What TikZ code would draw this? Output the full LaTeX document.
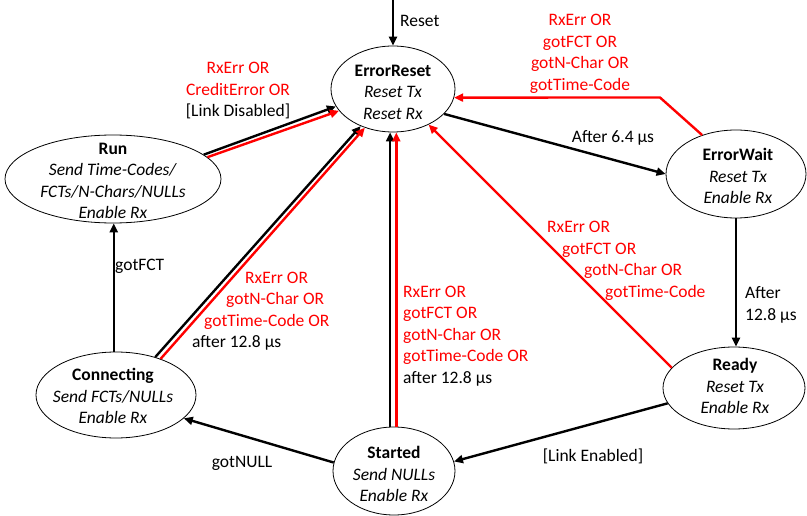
\documentclass[tikz,border=0pt]{standalone}
\usepackage{fontspec}
\setmainfont{Carlito}
\usetikzlibrary{shapes.geometric,arrows.meta}
\begin{document}
\begin{tikzpicture}[x=1pt,y=-1pt,
  every node/.style={font=\fontsize{17.5pt}{21.5pt}\selectfont},
  stbox/.style={draw, ellipse, line width=0.8pt, inner sep=0pt},
  txt/.style={inner sep=0pt, align=center},
  lbl/.style={inner sep=0pt, align=center},
  ar/.style={line width=2.4pt, -{Triangle[length=9pt,width=8pt]}},
  rar/.style={ar, red}]
\useasboundingbox (0,0) rectangle (807,516);

% states
\node[stbox, minimum width=124pt, minimum height=86pt] (er) at (393,89) {};
\node[stbox, minimum width=216pt, minimum height=88pt] (run) at (113,179) {};
\node[stbox, minimum width=140pt, minimum height=88pt] (ew) at (736,174) {};
\node[stbox, minimum width=142pt, minimum height=82pt] (rd) at (734,388) {};
\node[stbox, minimum width=160pt, minimum height=86pt] (cn) at (116,395) {};
\node[stbox, minimum width=122pt, minimum height=88pt] (st) at (394,471) {};

\node[txt] (erT) at (393,92) {\textbf{ErrorReset}\\\textit{Reset Tx}\\\textit{Reset Rx}};
\node[txt] (runT) at (113,181) {\textbf{Run}\\\textit{Send Time-Codes/}\\\textit{FCTs/N-Chars/NULLs}\\\textit{Enable Rx}};
\node[txt] (ewT) at (738,176) {\textbf{ErrorWait}\\\textit{Reset Tx}\\\textit{Enable Rx}};
\node[txt] (rdT) at (735,386) {\textbf{Ready}\\\textit{Reset Tx}\\\textit{Enable Rx}};
\node[txt] (cnT) at (113,396) {\textbf{Connecting}\\\textit{Send FCTs/NULLs}\\\textit{Enable Rx}};
\node[txt] (stT) at (394,474) {\textbf{Started}\\\textit{Send NULLs}\\\textit{Enable Rx}};

% reset
\coordinate (rtop) at (393,0);
\draw[ar] (rtop) -- (er.north);
\node[lbl, anchor=west] (resetL) at (400,21) {Reset};

% Run -> ErrorReset
\draw[ar] (run.15.7) -- (er.197.6);
\draw[rar] (run.13.5) -- (er.202.3);
\node[lbl] (runL) at (238,91) {\textcolor{red}{RxErr OR}\\\textcolor{red}{CreditError OR}\\{[}Link Disabled{]}};

% ErrorReset -> ErrorWait
\draw[ar] (er.334) -- (ew.180);
\node[lbl] (aftL) at (613,138) {After 6.4 µs};

% ErrorWait -> ErrorReset
\coordinate (ewk) at (660,97.5);
\draw[rar] (ew.131) -- (ewk) -- (er.352);
\node[lbl, red] (ewL) at (580,54) {RxErr OR\\gotFCT OR\\gotN-Char OR\\gotTime-Code};

% ErrorWait -> Ready
\draw[ar] (ew.south) -- (ew.south |- rd.north);
\node[lbl, align=left, anchor=west] (ewrL) at (745,305) {After\\12.8 µs};

% Ready -> ErrorReset
\draw[rar] (rd.162) -- (er.315);
\node[lbl, red, align=left, anchor=west] (rdL) at (547,261) {RxErr OR\\\hspace*{15pt}gotFCT OR\\\hspace*{37pt}gotN-Char OR\\\hspace*{58pt}gotTime-Code};

% Ready -> Started
\draw[ar] (rd.193.6) -- (st.9);
\node[lbl] (leL) at (593,456) {{[}Link Enabled{]}};

% Started -> Connecting
\draw[ar] (st.172.5) -- (cn.341.6);
\node[lbl] (gnL) at (242,463) {gotNULL};

% Started -> ErrorReset
\draw[ar] (st.95) -- (st.95 |- er.south);
\draw[rar] (st.87) -- (st.87 |- er.south);
\node[lbl, align=left, anchor=west] (stL) at (403,336) {\textcolor{red}{RxErr OR}\\\textcolor{red}{gotFCT OR}\\\textcolor{red}{gotN-Char OR}\\\textcolor{red}{gotTime-Code OR}\\after 12.8 µs};

% Connecting -> ErrorReset
\draw[ar] (cn.44.3) -- (er.229);
\draw[rar] (cn.39.5) -- (er.234.4);
\node[lbl, align=left, anchor=west] (cnL) at (192,311) {\hspace*{53pt}\textcolor{red}{RxErr OR}\\\hspace*{34pt}\textcolor{red}{gotN-Char OR}\\\hspace*{12pt}\textcolor{red}{gotTime-Code OR}\\after 12.8 µs};

% Connecting -> Run
\draw[ar] (cn.93) -- (cn.93 |- run.south);
\node[lbl, anchor=west] (gfL) at (115,266) {gotFCT};
\end{tikzpicture}
\end{document}
